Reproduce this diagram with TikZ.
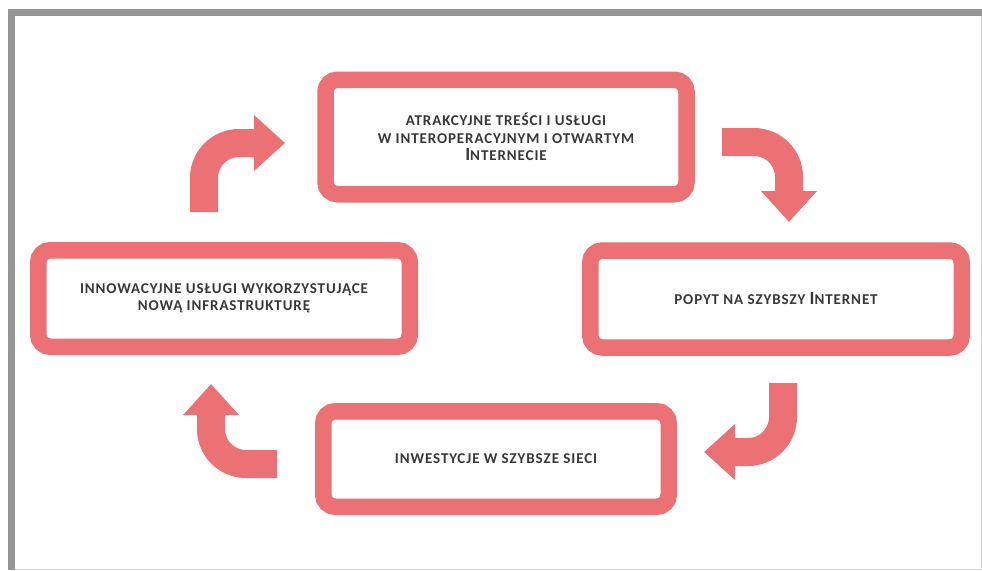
\documentclass[tikz,border=0pt]{standalone}
\usepackage{fontspec}
\setmainfont{Carlito}
\newfontfamily\boxfont[LetterSpace=6]{Carlito}
\usetikzlibrary{arrows.meta,positioning}
\definecolor{cyclered}{RGB}{235,113,117}
\definecolor{framegray}{RGB}{150,150,150}
\newcommand{\capI}{{\fontsize{18.5}{17.5}\selectfont I}}

\begin{document}
\begin{tikzpicture}[
    x=1pt, y=-1pt,
    cyclebox/.style={rectangle, rounded corners=12pt, draw=cyclered, line width=16.5pt, fill=white, inner sep=0pt, text centered, align=center, text=black!78, font=\boxfont\bfseries\fontsize{15}{17.5}\selectfont},
    cyclearrow/.style={draw=cyclered, line width=28pt, rounded corners=35pt, -{Triangle[width=54pt,length=31pt]}}
]

% Frame
\useasboundingbox (0,0) rectangle (982,570);
\fill[white] (0,0) rectangle (982,570);
\fill[framegray] (8,9) rectangle (982,16);
\fill[framegray] (8,9) rectangle (15,570);
\draw[framegray!40, line width=1pt] (15,569.5) -- (981.5,569.5) -- (981.5,16);

% Boxes
\node[cyclebox, minimum width=361pt, minimum height=114.5pt] (tresci) at (506,137) {ATRAKCYJNE TREŚCI I USŁUGI\\W INTEROPERACYJNYM I OTWARTYM\\\capI NTERNECIE};
\node[cyclebox, minimum width=371.5pt, minimum height=97pt] (popyt) at (776,299) {POPYT NA SZYBSZY \capI NTERNET};
\node[cyclebox, minimum width=345.5pt, minimum height=95.5pt] (inwestycje) at (496,459) {INWESTYCJE W SZYBSZE SIECI};
\node[cyclebox, minimum width=371.5pt, minimum height=96.5pt] (innowacje) at (224,298.5) {INNOWACYJNE USŁUGI WYKORZYSTUJĄCE\\NOWĄ INFRASTRUKTURĘ};

% Arrow ends
\coordinate (trescistart) at (722,142);
\coordinate (popytend) at (789,222);
\coordinate (popytstart) at (783,383);
\coordinate (inwestycjeend) at (704,452);
\coordinate (inwestycjestart) at (277,464);
\coordinate (innowacjeend) at (211,384);
\coordinate (innowacjestart) at (204,212);
\coordinate (trescend) at (285,143);

% Arrows
\draw[cyclearrow] (trescistart) -| (popytend);
\draw[cyclearrow] (popytstart) |- (inwestycjeend);
\draw[cyclearrow] (inwestycjestart) -| (innowacjeend);
\draw[cyclearrow] (innowacjestart) |- (trescend);

\end{tikzpicture}
\end{document}
